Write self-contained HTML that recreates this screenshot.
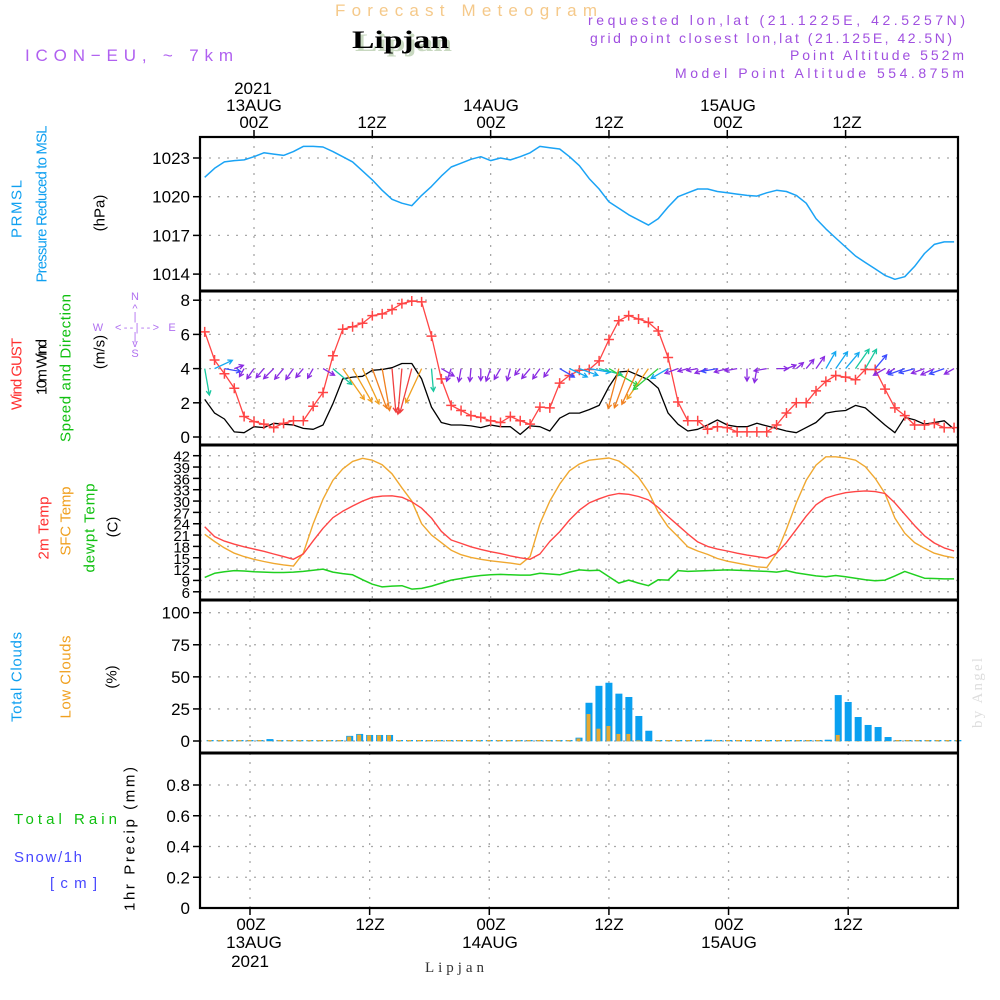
<!DOCTYPE html>
<html><head><meta charset="utf-8"><title>Forecast Meteogram - Lipjan</title>
<style>
html,body{margin:0;padding:0;background:#fff;}
svg{display:block;font-family:"Liberation Sans",sans-serif;}
</style></head>
<body>
<svg id="chart" width="1000" height="1000" viewBox="0 0 1000 1000" xmlns="http://www.w3.org/2000/svg">
<rect x="0" y="0" width="1000" height="1000" fill="#fff"/>
<!-- header -->
<text x="335" y="16" font-size="17" fill="#f5c98a" textLength="262" lengthAdjust="spacing">Forecast Meteogram</text>
<text x="355" y="51" font-family="Liberation Serif, serif" font-weight="bold" font-size="25" fill="#c8d8c0" textLength="97" lengthAdjust="spacingAndGlyphs">Lipjan</text>
<text x="352" y="48" font-family="Liberation Serif, serif" font-weight="bold" font-size="25" fill="#000" textLength="97" lengthAdjust="spacingAndGlyphs">Lipjan</text>
<text x="25" y="61" font-size="17" fill="#b060f0" textLength="208" lengthAdjust="spacing">ICON−EU, ~ 7km</text>
<text x="588" y="25" font-size="14" fill="#a050e0" textLength="377" lengthAdjust="spacing">requested lon,lat (21.1225E, 42.5257N)</text>
<text x="590" y="43" font-size="14" fill="#a050e0" textLength="362" lengthAdjust="spacing">grid point closest lon,lat (21.125E, 42.5N)</text>
<text x="790" y="60" font-size="14" fill="#a050e0" textLength="174" lengthAdjust="spacing">Point Altitude 552m</text>
<text x="675" y="78" font-size="14" fill="#a050e0" textLength="289" lengthAdjust="spacing">Model Point Altitude 554.875m</text>

<!-- top time labels -->
<g font-size="17" fill="#000" text-anchor="middle">
<text x="253" y="94">2021</text>
<text x="254" y="111">13AUG</text>
<text x="254" y="128">00Z</text>
<text x="372" y="128">12Z</text>
<text x="491" y="111">14AUG</text>
<text x="491" y="128">00Z</text>
<text x="609" y="128">12Z</text>
<text x="728" y="111">15AUG</text>
<text x="728" y="128">00Z</text>
<text x="847" y="128">12Z</text>
</g>
<!-- bottom time labels -->
<g font-size="17" fill="#000" text-anchor="middle">
<text x="251" y="930">00Z</text>
<text x="254" y="948">13AUG</text>
<text x="250" y="967">2021</text>
<text x="370" y="930">12Z</text>
<text x="491" y="930">00Z</text>
<text x="490" y="948">14AUG</text>
<text x="609" y="930">12Z</text>
<text x="729" y="930">00Z</text>
<text x="729" y="948">15AUG</text>
<text x="848" y="930">12Z</text>
</g>
<text x="425" y="972" font-family="Liberation Serif, serif" font-size="15" fill="#333" textLength="59" lengthAdjust="spacing">Lipjan</text>

<!-- left panel labels -->
<g text-anchor="middle" dominant-baseline="central" font-size="15">
<text transform="translate(17,209) rotate(-90)" fill="#10a0f0" textLength="58" lengthAdjust="spacing">PRMSL</text>
<text transform="translate(42,204) rotate(-90)" fill="#10a0f0" textLength="157" lengthAdjust="spacing">Pressure Reduced to MSL</text>
<text transform="translate(100,213) rotate(-90)" fill="#000">(hPa)</text>
<text transform="translate(17,374) rotate(-90)" fill="#ff3030" textLength="72" lengthAdjust="spacing">Wind GUST</text>
<text transform="translate(42,367) rotate(-90)" fill="#000" textLength="56" lengthAdjust="spacing">10m Wind</text>
<text transform="translate(66,368) rotate(-90)" fill="#10c010" textLength="148" lengthAdjust="spacing">Speed and Direction</text>
<text transform="translate(100,352) rotate(-90)" fill="#000">(m/s)</text>
<text transform="translate(44,528) rotate(-90)" fill="#ff3030" textLength="63" lengthAdjust="spacing">2m Temp</text>
<text transform="translate(66,521) rotate(-90)" fill="#f0a020" textLength="69" lengthAdjust="spacing">SFC Temp</text>
<text transform="translate(90,528) rotate(-90)" fill="#10c010" textLength="89" lengthAdjust="spacing">dewpt Temp</text>
<text transform="translate(113,527) rotate(-90)" fill="#000">(C)</text>
<text transform="translate(17,677) rotate(-90)" fill="#10a0f0" textLength="90" lengthAdjust="spacing">Total Clouds</text>
<text transform="translate(66,677) rotate(-90)" fill="#f0a020" textLength="83" lengthAdjust="spacing">Low Clouds</text>
<text transform="translate(112,677) rotate(-90)" fill="#000">(%)</text>
<text transform="translate(130,839) rotate(-90)" fill="#000" textLength="144" lengthAdjust="spacing">1hr Precip (mm)</text>
<text transform="translate(978,693) rotate(-90)" fill="#ddd" font-family="Liberation Serif, serif" textLength="70" lengthAdjust="spacing">by Angel</text>
</g>
<text x="14" y="824" font-size="15" fill="#10c010" textLength="103" lengthAdjust="spacing">Total  Rain</text>
<text x="14" y="862" font-size="15" fill="#4848ff" textLength="68" lengthAdjust="spacing">Snow/1h</text>
<text x="50" y="888" font-size="15" fill="#4848ff" textLength="47" lengthAdjust="spacing">[cm]</text>

<!-- compass -->
<g fill="#b070f0" font-size="11" text-anchor="middle">
<text x="135" y="300">N</text>
<text x="135" y="312">^</text>
<text x="135" y="320">|</text>
<text x="98" y="331">W</text>
<text x="137" y="331" textLength="44" lengthAdjust="spacing">&lt;--|--&gt;</text>
<text x="172" y="331">E</text>
<text x="135" y="340">|</text>
<text x="135" y="347">v</text>
<text x="135" y="357">S</text>
</g>

<g id="grid"></g>
<g id="marks"></g>
<g id="frame"></g>
</svg>
<script>
// ---------- data (hourly from 12Aug 19Z: hour -5 .. 71 relative to 13AUG 00Z) ----------
const startHour = -5;
const pressure = [1021.5,1022.2,1022.7,1022.8,1022.85,1023.1,1023.4,1023.3,1023.2,1023.5,1023.9,1023.9,1023.85,1023.5,1023.1,1022.7,1022.0,1021.3,1020.5,1019.8,1019.5,1019.3,1020.1,1020.8,1021.6,1022.3,1022.6,1022.9,1023.1,1022.8,1023.0,1022.85,1023.1,1023.4,1023.9,1023.8,1023.7,1023.1,1022.4,1021.4,1020.6,1019.6,1019.1,1018.6,1018.2,1017.8,1018.3,1019.2,1020.0,1020.3,1020.6,1020.6,1020.4,1020.3,1020.2,1020.1,1020.05,1020.3,1020.5,1020.4,1020.1,1019.5,1018.3,1017.5,1016.8,1016.1,1015.4,1014.9,1014.4,1013.9,1013.6,1013.8,1014.6,1015.6,1016.3,1016.5,1016.5];
const windGust = [6.15,4.5,3.7,2.85,1.2,0.9,0.75,0.55,0.8,0.95,0.95,1.8,2.6,4.75,6.3,6.45,6.65,7.1,7.2,7.45,7.8,7.95,7.9,5.9,3.4,1.85,1.55,1.25,1.15,0.95,0.85,1.2,0.95,0.75,1.75,1.7,3.15,3.6,3.9,3.95,4.45,5.7,6.8,7.1,6.9,6.7,6.2,4.65,2.05,0.95,0.95,0.45,0.6,0.55,0.3,0.3,0.3,0.3,0.7,1.4,2.0,2.0,2.7,3.25,3.6,3.5,3.35,3.95,3.95,2.8,1.7,1.25,0.7,0.7,0.8,0.55,0.55];
const windSpeed = [2.2,1.4,1.05,0.3,0.25,0.6,0.55,0.8,0.75,0.7,0.5,0.45,0.7,1.95,3.4,3.5,3.55,3.9,3.95,4.05,4.3,4.3,3.4,1.75,0.85,0.7,0.7,0.65,0.55,0.7,0.6,0.6,0.15,0.65,0.6,0.35,1.1,1.4,1.4,1.6,1.85,2.95,3.8,3.85,3.6,3.35,2.85,1.4,0.75,0.35,0.45,0.7,1.0,0.7,0.6,0.6,0.8,0.65,0.5,0.35,0.25,0.55,0.85,1.4,1.5,1.55,1.85,1.7,1.2,0.7,0.25,1.15,1.0,0.75,0.85,0.95,0.45];
const windDir = [350,245,280,250,30,35,40,45,40,35,40,30,300,310,325,330,335,340,350,355,5,15,25,355,300,20,10,5,0,20,30,15,40,40,35,35,300,295,290,280,285,300,15,20,25,35,50,60,70,75,80,70,80,75,80,0,10,80,270,250,230,220,215,210,215,220,215,210,220,60,60,70,75,70,65,70,60];
const temp2m = [23.2,20.6,19.4,18.6,17.9,17.3,16.7,16.0,15.3,14.6,16.0,19.5,22.8,25.6,27.3,28.7,30.0,31.0,31.3,31.4,31.0,29.8,28.1,25.5,22.0,19.7,18.8,17.9,17.2,16.6,16.1,15.5,15.0,14.6,16.0,19.3,21.9,25.0,27.6,29.5,30.6,31.5,32.0,31.8,31.2,30.3,28.3,25.9,23.6,21.3,19.2,18.0,17.3,16.8,16.2,15.7,15.3,14.9,16.2,19.0,22.5,26.0,29.0,30.8,31.6,32.2,32.5,32.7,32.5,32.0,29.5,26.5,23.5,20.8,18.9,17.6,16.8];
const tempSfc = [21.2,19.3,17.6,16.2,15.3,14.6,14.0,13.5,13.1,12.8,16.2,24.0,30.5,35.5,38.5,40.5,41.3,40.8,39.6,37.2,33.5,30.0,24.0,21.0,19.0,17.0,15.8,15.1,14.6,14.2,13.9,13.6,13.2,15.3,24.0,30.0,34.5,38.0,39.8,40.8,41.1,41.4,40.6,38.7,36.3,32.5,27.0,23.2,20.6,17.9,16.8,15.9,14.8,14.1,13.6,13.1,12.6,12.4,16.2,22.5,29.5,35.5,39.5,41.7,41.7,41.4,40.8,39.1,36.0,32.0,25.5,21.5,19.0,17.5,16.2,15.5,15.0];
const tempDew = [9.8,10.9,11.3,11.6,11.5,11.3,11.2,11.1,11.1,11.2,11.4,11.7,12.0,11.2,10.8,10.5,9.2,8.0,7.3,7.5,7.6,6.7,6.9,7.5,8.3,9.1,9.5,10.0,10.3,10.5,10.6,10.5,10.4,10.4,10.9,10.7,10.5,11.2,11.8,11.6,11.7,10.0,8.3,9.1,8.3,7.6,9.2,9.1,11.6,11.4,11.5,11.6,11.7,11.8,11.7,11.6,11.5,11.4,11.2,11.6,11.0,10.6,10.2,10.0,10.3,10.0,9.6,9.2,8.9,9.1,10.2,11.4,10.5,9.6,9.5,9.4,9.4];
const cloudHours = [2,10,11,12,13,14,33,34,35,36,37,38,39,40,46,58,59,60,61,62,63,64];
const totalClouds = [1.5,4,5.5,4.7,4.7,4.7,2.6,29.8,43,45.4,36.9,34.3,19.5,8,1,1,35.8,30.4,18.7,12.5,10.9,3.1];
const lowClouds = [0,3.5,5,4.5,4.5,4.5,2,21,9.6,11.7,5.5,5.5,0.5,0,0,0,4.7,0,0,0,0,0];
const precipHourly = []; // all zero in this forecast
const pressureTicks = [1014,1017,1020,1023];
const windTicks = [0,2,4,6,8];
const tempTicks = [6,9,12,15,18,21,24,27,30,33,36,39,42];
const cloudTicks = [0,25,50,75,100];
const precipTicks = [0,0.2,0.4,0.6,0.8];
const timeTickHours = [0,12,24,36,48,60];

// ---------- scales ----------
const X0=200, X1=958;
const xu = h => 254 + 9.86*h;       // upper panels
const xl = h => 250 + 9.97*h;       // lower panels
const yP = v => 158 + (1023-v)*12.9;
const yW = v => 437 - 17.1*v;
const yT = v => 455.7 + (42-v)*3.78;
const yC = v => 741 - 1.283*v;
const yR = v => 908 - 153.75*v;
const NS="http://www.w3.org/2000/svg";
const grid=document.getElementById('grid'), marks=document.getElementById('marks'), frame=document.getElementById('frame');
function mk(tag, parent, attrs){const e=document.createElementNS(NS,tag);for(const k in attrs)e.setAttribute(k,attrs[k]);parent.appendChild(e);return e;}

// ---------- grids & y ticks ----------
function hGrid(ticks, yf, fmt, name, fs){
  ticks.forEach(t=>{
    const y=yf(t);
    const g=mk('line',grid,{x1:X0,x2:X1,y1:y,y2:y,stroke:'#a8a8a8','stroke-width':1.3,'stroke-dasharray':'2,7'});
    
    
    const tk=mk('line',frame,{x1:193,x2:200,y1:y,y2:y,stroke:'#000','stroke-width':1.5});
    
    
    const tx=mk('text',frame,{x:190,y:y+6,'text-anchor':'end','font-size':fs,fill:'#000'});
    
    
    tx.textContent=fmt(t);
  });
}
hGrid(pressureTicks,yP,t=>String(t),'pressure-axis',17);
hGrid(windTicks,yW,t=>String(t),'wind-axis',17);
hGrid(tempTicks,yT,t=>String(t),'temp-axis',15);
hGrid(cloudTicks,yC,t=>String(t),'clouds-axis',17);
hGrid(precipTicks.filter(t=>t>0),yR,t=>t.toFixed(1),'precip-axis',17);
{const tx=mk('text',frame,{x:190,y:914,'text-anchor':'end','font-size':17,fill:'#000'});


tx.textContent='0';}

timeTickHours.forEach(h=>{
  const a=mk('line',grid,{x1:xu(h),x2:xu(h),y1:137,y2:600,stroke:'#a8a8a8','stroke-width':1.3,'stroke-dasharray':'2,7'});
  
  
  const b=mk('line',grid,{x1:xl(h),x2:xl(h),y1:600,y2:908,stroke:'#a8a8a8','stroke-width':1.3,'stroke-dasharray':'2,7'});
  
  
  const t1=mk('line',frame,{x1:xu(h),x2:xu(h),y1:130,y2:137,stroke:'#000','stroke-width':1.5});
  
  
  const t2=mk('line',frame,{x1:xl(h),x2:xl(h),y1:908,y2:915,stroke:'#000','stroke-width':1.5});
  
  
});

// ---------- series ----------
function poly(vals, yf, color, name, w){
  const pts=vals.map((v,i)=>xu(startHour+i).toFixed(1)+','+yf(v).toFixed(1)).join(' ');
  const p=mk('polyline',marks,{points:pts,fill:'none',stroke:color,'stroke-width':w||1.4,'stroke-linejoin':'round'});
  
  
}
poly(pressure,yP,'#1aa3f5','pressure-line',1.5);
poly(windSpeed,yW,'#000','wind-speed-line',1.3);
poly(windGust,yW,'#ff4545','wind-gust-line',1.3);
windGust.forEach((v,i)=>{
  const x=xu(startHour+i), y=yW(v);
  const c=mk('path',marks,{d:`M${x-5},${y}H${x+5}M${x},${y-5}V${y+5}`,stroke:'#ff4545','stroke-width':1.5});
  
  
});
function spdColor(s,d){
  if(s<0.9) return '#8a2be2';
  if(s<1.3) return '#3b4cff';
  if(s<1.7) return '#14a8f0';
  if(s<2.3) return '#18c8a0';
  if(s<3.0) return '#30d040';
  if(s<3.6) return '#f0a020';
  if(s<4.0) return '#f08020';
  return '#f04040';
}
windSpeed.forEach((s,i)=>{
  const d=windDir[i]*Math.PI/180;
  const L=7+9*s;
  const x0=xu(startHour+i), y0=yW(4);
  const dx=-Math.sin(d), dy=Math.cos(d);
  const x1=x0+dx*L, y1=y0+dy*L;
  const hx=-dx*5, hy=-dy*5;
  const c=Math.cos(0.5), sn=Math.sin(0.5);
  const a1x=x1+hx*c-hy*sn, a1y=y1+hx*sn+hy*c;
  const a2x=x1+hx*c+hy*sn, a2y=y1-hx*sn+hy*c;
  const col=spdColor(s);
  const ar=mk('path',marks,{d:`M${x0},${y0}L${x1},${y1}M${a1x},${a1y}L${x1},${y1}L${a2x},${a2y}`,fill:'none',stroke:col,'stroke-width':1.3});
  
  
});
poly(tempSfc,yT,'#f0a830','sfc-temp-line',1.4);
poly(temp2m,yT,'#ff4545','t2m-line',1.4);
poly(tempDew,yT,'#20d020','dewpoint-line',1.5);

// clouds: baseline bars for all hours
for(let h=startHour+1; h<=71; h++){
  const x=xl(h);
  const b=mk('rect',marks,{x:x-3.5,y:yC(0)-1,width:7,height:1.3,fill:'#0aa0f0'});
  
  
  const o=mk('rect',marks,{x:x-2.5,y:yC(0)-1,width:4,height:1.3,fill:'#e8a830'});
  
  
}
cloudHours.forEach((h,i)=>{
  const x=xl(h);
  const t=totalClouds[i], l=lowClouds[i];
  const b=mk('rect',marks,{x:x-3.5,y:yC(t),width:7,height:yC(0)-yC(t),fill:'#0aa0f0'});
  
  
  if(l>0){
    const o=mk('rect',marks,{x:x-2.5,y:yC(l),width:4,height:yC(0)-yC(l),fill:'#e8a830'});
    
    
  }
});
precipHourly.forEach((v,i)=>{
  const x=xl(startHour+i);
  const r=mk('rect',marks,{x:x-3.5,y:yR(v),width:7,height:yR(0)-yR(v),fill:'#20c020'});
  
  
});

// ---------- frame ----------
const fr=mk('rect',frame,{x:X0,y:137,width:X1-X0,height:908-137,fill:'none',stroke:'#000','stroke-width':2.2});


[291,445,600,753].forEach(y=>{
  const s=mk('line',frame,{x1:X0,x2:X1,y1:y,y2:y,stroke:'#000','stroke-width':3});
  
  
});
</script>
</body></html>
